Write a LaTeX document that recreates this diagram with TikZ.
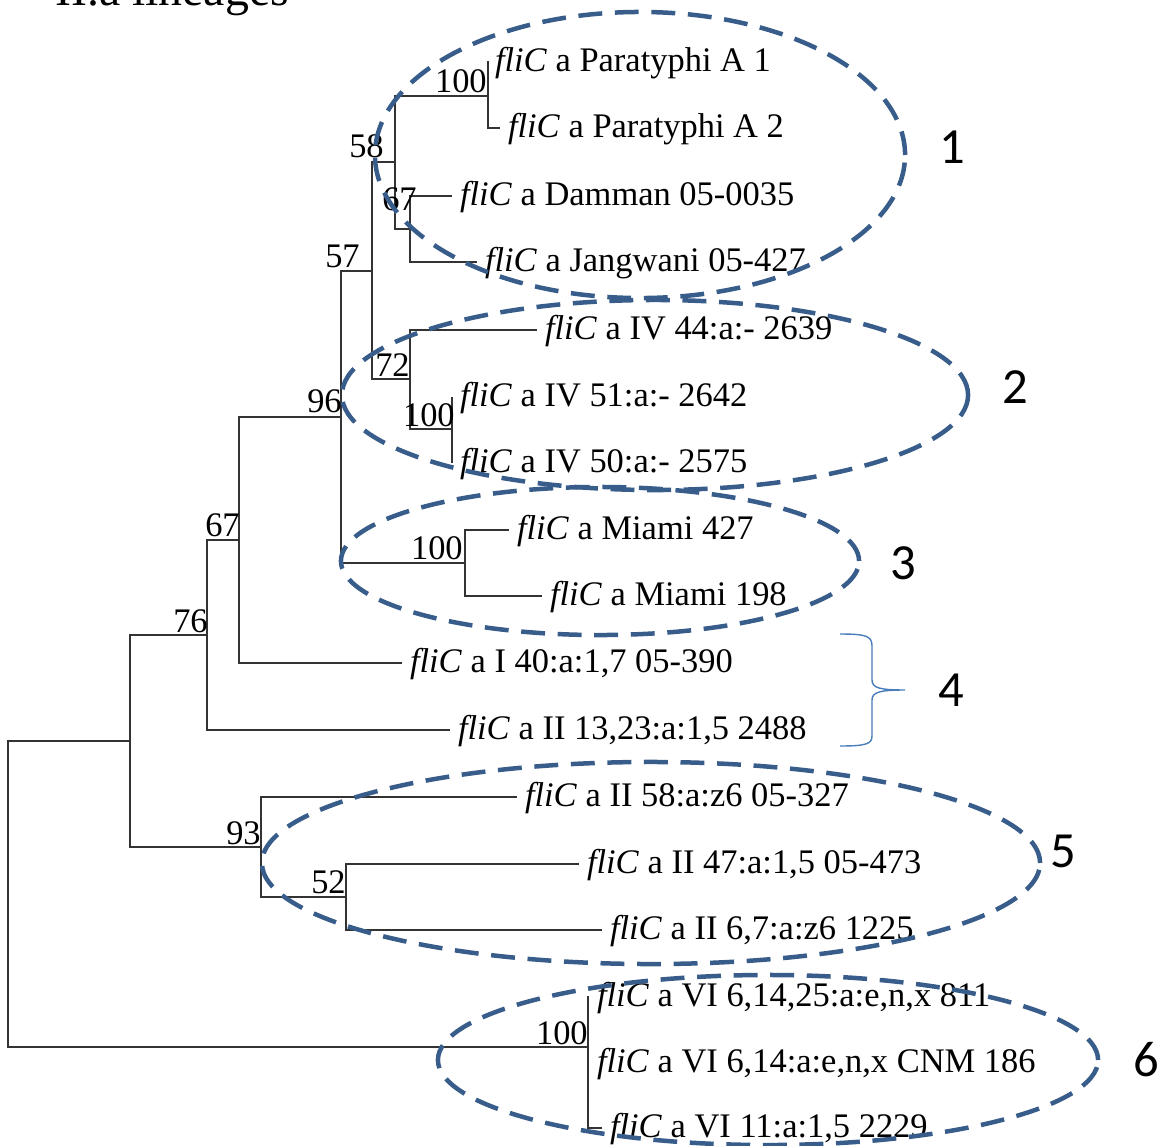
\documentclass[tikz,border=0pt]{standalone}
\usepackage{fontspec}
\setmainfont{Liberation Serif}
\newfontfamily\grpfont{Carlito}
\usetikzlibrary{positioning}
\definecolor{grpblue}{RGB}{56,93,138}
\definecolor{braceblue}{RGB}{74,126,187}

\tikzset{
    branch/.style={draw=black!80, line width=1pt},
    leaf/.style={anchor=west, inner sep=0pt, outer xsep=0.2cm, text height=19pt, text depth=4.8pt, font=\fontsize{24.5pt}{29pt}\selectfont},
    boot/.style={anchor=south east, inner sep=0pt, font=\fontsize{24.5pt}{29pt}\selectfont},
    group/.style={draw=grpblue, line width=3.2pt, dash pattern=on 17pt off 9pt},
    grplabel/.style={inner sep=0pt, font=\grpfont\fontsize{36pt}{40pt}\selectfont},
}

\begin{document}
\begin{tikzpicture}[x=0.025cm, y=-0.025cm]
    \clip (0,0) rectangle (1166,1146);

    \node[anchor=base west, inner sep=0pt, font=\fontsize{34pt}{40pt}\selectfont] (title) at (55,5) {II.a lineages};

    \coordinate (root) at (8,894);
    \coordinate (n0) at (130,741);
    \coordinate (n76) at (207,635);
    \coordinate (n67b) at (239,540);
    \coordinate (n96) at (341,417);
    \coordinate (n57) at (372,271);
    \coordinate (n58) at (395,162);
    \coordinate (n100a) at (488,96);
    \coordinate (n67a) at (410,229);
    \coordinate (n72) at (410,379);
    \coordinate (n100b) at (452,429);
    \coordinate (n100c) at (465,563);
    \coordinate (n93) at (261,847);
    \coordinate (n52) at (346,897);
    \coordinate (n100d) at (588,1047);

    \node[leaf] (pa1) at (487,62) {\textit{fliC} a Paratyphi A 1};
    \node[leaf] (pa2) at (500,128) {\textit{fliC} a Paratyphi A 2};
    \node[leaf] (dam) at (452,196) {\textit{fliC} a Damman 05-0035};
    \node[leaf] (jang) at (477,262) {\textit{fliC} a Jangwani 05-427};
    \node[leaf] (iv44) at (537,330) {\textit{fliC} a IV 44:a:- 2639};
    \node[leaf] (iv51) at (452,397) {\textit{fliC} a IV 51:a:- 2642};
    \node[leaf] (iv50) at (452,463) {\textit{fliC} a IV 50:a:- 2575};
    \node[leaf] (mia427) at (509,530) {\textit{fliC} a Miami 427};
    \node[leaf] (mia198) at (542,596) {\textit{fliC} a Miami 198};
    \node[leaf] (i40) at (402,663) {\textit{fliC} a I 40:a:1,7 05-390};
    \node[leaf] (ii13) at (450,730) {\textit{fliC} a II 13,23:a:1,5 2488};
    \node[leaf] (ii58) at (517,797) {\textit{fliC} a II 58:a:z6 05-327};
    \node[leaf] (ii47) at (579,864) {\textit{fliC} a II 47:a:1,5 05-473};
    \node[leaf] (ii67) at (602,930) {\textit{fliC} a II 6,7:a:z6 1225};
    \node[leaf] (vi811) at (589,997) {\textit{fliC} a VI 6,14,25:a:e,n,x 811};
    \node[leaf] (vi186) at (589,1063) {\textit{fliC} a VI 6,14:a:e,n,x CNM 186};
    \node[leaf] (vi2229) at (602,1128) {\textit{fliC} a VI 11:a:1,5 2229};

    \draw[branch] (root) |- (n0);
    \draw[branch] (root) |- (n100d);
    \draw[branch] (n0) |- (n76);
    \draw[branch] (n0) |- (n93);
    \draw[branch] (n76) |- (n67b);
    \draw[branch] (n76) |- (ii13);
    \draw[branch] (n67b) |- (n96);
    \draw[branch] (n67b) |- (i40);
    \draw[branch] (n96) |- (n57);
    \draw[branch] (n96) |- (n100c);
    \draw[branch] (n57) |- (n58);
    \draw[branch] (n57) |- (n72);
    \draw[branch] (n58) |- (n100a);
    \draw[branch] (n58) |- (n67a);
    \draw[branch] (n100a) |- (pa1);
    \draw[branch] (n100a) |- (pa2);
    \draw[branch] (n67a) |- (dam);
    \draw[branch] (n67a) |- (jang);
    \draw[branch] (n72) |- (iv44);
    \draw[branch] (n72) |- (n100b);
    \draw[branch] (n100b) |- (iv51);
    \draw[branch] (n100b) |- (iv50);
    \draw[branch] (n100c) |- (mia427);
    \draw[branch] (n100c) |- (mia198);
    \draw[branch] (n93) |- (ii58);
    \draw[branch] (n93) |- (n52);
    \draw[branch] (n52) |- (ii47);
    \draw[branch] (n52) |- (ii67);
    \draw[branch] (n100d) |- (vi811);
    \draw[branch] (n100d) |- (vi186);
    \draw[branch] (n100d) |- (vi2229);

    \node[boot] (b100a) at (487,93) {100};
    \node[boot] (b58) at (384,158) {58};
    \node[boot] (b67a) at (417,211) {67};
    \node[boot] (b57) at (360,268) {57};
    \node[boot] (b72) at (410,377) {72};
    \node[boot] (b100b) at (455,427) {100};
    \node[boot] (b96) at (342,413) {96};
    \node[boot] (b100c) at (463,560) {100};
    \node[boot] (b67b) at (240,537) {67};
    \node[boot] (b76) at (208,633) {76};
    \node[boot] (b93) at (261,845) {93};
    \node[boot] (b52) at (346,894) {52};
    \node[boot] (b100d) at (588,1045) {100};

    \draw[group] (640,155) ellipse [x radius=6.625cm, y radius=3.575cm];
    \draw[group] (655,395) ellipse [x radius=7.825cm, y radius=2.375cm];
    \draw[group] (600,561) ellipse [x radius=6.475cm, y radius=1.85cm];
    \draw[group] (651,863) ellipse [x radius=9.725cm, y radius=2.525cm];
    \draw[group] (768,1060) ellipse [x radius=8.25cm, y radius=2.125cm];

    \draw[braceblue, line width=1pt] (840,634) .. controls (866,634) and (872,636) .. (872,646) -- (872,680)
        .. controls (872,688) and (880,690) .. (905,690) .. controls (880,690) and (872,692) .. (872,700)
        -- (872,736) .. controls (872,744) and (866,746) .. (840,746);

    \node[grplabel] (g1) at (952,147) {1};
    \node[grplabel] (g2) at (1015,387) {2};
    \node[grplabel] (g3) at (903,563) {3};
    \node[grplabel] (g4) at (951,690) {4};
    \node[grplabel] (g5) at (1063,851) {5};
    \node[grplabel] (g6) at (1146,1060) {6};
\end{tikzpicture}
\end{document}
